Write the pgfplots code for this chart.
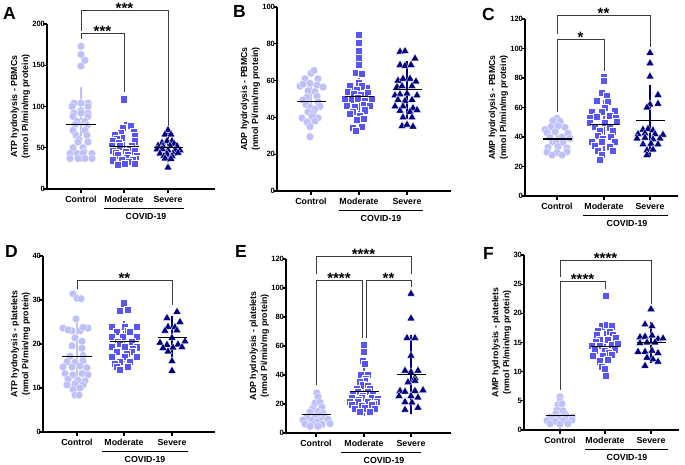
\documentclass[border=0pt]{standalone}
\usepackage{pgfplots}
\pgfplotsset{compat=1.18}
\usepackage{fontspec}
\setmainfont{Liberation Sans}
\definecolor{cctrl}{RGB}{192,192,248}
\definecolor{cmod}{RGB}{85,85,248}
\definecolor{csev}{RGB}{0,0,128}
\definecolor{cbrk}{RGB}{60,60,60}
\newcommand{\xlabfont}{\bfseries\fontsize{8.8}{10}\selectfont}
\newcommand{\covid}[3]{%
  \draw[line width=0.9pt] ([yshift=-19pt]axis cs:#1,0) -- ([yshift=-19pt]axis cs:#2,0);
  \node[font=\xlabfont] at ([yshift=-27pt]axis cs:#3,0) {COVID-19};}
\tikzset{
  brk/.style={cbrk, line width=1pt},
  stars/.style={font=\bfseries\fontsize{15}{15}\selectfont, anchor=base, inner sep=0pt, yshift=-3pt},
  letter/.style={font=\bfseries\fontsize{17.5}{17.5}\selectfont, anchor=north west, inner sep=0pt},
}
\pgfplotsset{
  panel/.style={
    scale only axis, anchor=south west, clip=false, enlargelimits=false,
    axis lines*=left,
    axis line style={-, line width=1.1pt, black},
    tick style={line width=1.1pt, black}, major tick length=3.5pt, tick align=outside,
    /pgf/number format/assume math mode=true,
    yticklabel style={font=\bfseries\fontsize{7.6}{9}\selectfont, xshift=5pt},
    xticklabel style={font=\xlabfont},
    ylabel style={font=\bfseries\fontsize{8.8}{11}\selectfont, align=center},
    ylabel shift=-4.5pt,
    xticklabels={Control,Moderate,Severe},
  },
  ctrl/.style={only marks, mark=*, mark size=3.9pt, mark options={fill=cctrl, draw=white, line width=0.25pt}},
  mod/.style={only marks, mark=square*, mark size=3.6pt, mark options={fill=cmod, draw=white, line width=0.25pt}},
  sev/.style={only marks, mark=triangle*, mark size=4.6pt, mark options={fill=csev, draw=white, line width=0.25pt}},
  msd/.style={only marks, mark=-, mark size=14.5pt, mark options={black, line width=1.2pt},
    error bars/.cd, y dir=both, y explicit,
    error bar style={line width=1.2pt, color=#1},
    error mark options={mark size=7pt, line width=1.2pt, color=#1}},
}
\begin{document}
\begin{tikzpicture}
\useasboundingbox (0,0) rectangle (685pt,-464pt);
\node[letter] at (3pt,-7pt) {A};
\node[letter] at (233pt,-5pt) {B};
\node[letter] at (482pt,-8pt) {C};
\node[letter] at (5pt,-245pt) {D};
\node[letter] at (235pt,-245pt) {E};
\node[letter] at (483pt,-247pt) {F};

% ---------------- A
\begin{axis}[panel, at={(47pt,-189pt)}, width=168pt, height=165pt,
  xmin=47, xmax=215, ymin=0, ymax=200, xtick={81,124,168}, ytick={0,50,100,150,200},
  ylabel={ATP hydrolysis - PBMCs\\(nmol Pi/min/mg protein)}]
\addplot[ctrl] coordinates {(81,173)(81,163)(85,156)(81,149)
 (74,104)(81,104)(88,104)(72,100)(88,100)(81,95)(74,92)(81,92)(88,92)(73,88)(88,88)
 (77,82)(85,82)(75,78)(87,77)(73,71)(85,71)(76,65)(87,65)(79,60)(78,57)(88,57)
 (73,50)(83,50)(84,45)(70,43)(77,43)(83,43)(92,43)(70,37)(78,37)(85,37)(92,37)};
\addplot[mod] coordinates {(124,109)(127,78)(131,77)(123,74)(121,68)(134,70)(115,66)(135,65)
 (122,62)(117,61)(113,58)(135,58)(119,56)(120,52)(132,52)(112,52)(130,49)(113,47)(135,46)
 (126,45)(116,44)(118,41)(128,42)(137,40)(127,38)(136,37)(113,35)(122,36)(133,35)(129,33)
 (125,31)(135,31)(118,30)};
\addplot[sev] coordinates {(168,71.5)(165,66)(171,66)(167,58)(172,58)(162,56)(174,55)
 (158,52.5)(163,52)(170,52.5)(177,52)(157,48)(162,48.5)(168,47)(175,47.5)(180,47)
 (160,43)(167,42.5)(173,43)(178,44)(164,40)(172,40)(165,37)(171,36.5)(168,26)};
\addplot[msd=cctrl] coordinates {(81,78) +- (0,37)};
\addplot[msd=cmod] coordinates {(124,52) +- (0,15)};
\addplot[msd=csev] coordinates {(168,50) +- (0,9)};
\draw[brk] (axis cs:81,182) -- (axis cs:81,189) -- (axis cs:124,189) -- (axis cs:124,117);
\draw[brk] (axis cs:81,192) -- (axis cs:81,216) -- (axis cs:168,216) -- (axis cs:168,76);
\node[stars] at (axis cs:102.5,189) {***};
\node[stars] at (axis cs:124.5,216) {***};
\covid{104}{184}{146}
\end{axis}

% ---------------- B
\begin{axis}[panel, at={(277pt,-191pt)}, width=174pt, height=184pt,
  xmin=277, xmax=451, ymin=0, ymax=100, xtick={311,359,407}, ytick={0,20,...,100},
  ylabel={ADP hydrolysis - PBMCs\\(nmol Pi/min/mg protein)}]
\addplot[ctrl] coordinates {(311,64)(314,65.5)(305,61)(318,61)(300,57)(303,58)(310,58.5)(317,57.5)(323,56.5)
 (315,54)(308,54.5)(307,51)(317,51.5)(303,49.5)(318,48.5)(306,47)(320,46)(310,45.5)(315,44.5)
 (308,43)(313,42)(302,39.7)(318,39.7)(312,40.5)(307,37.5)(315,38)(310,35)(310,29.5)};
\addplot[mod] coordinates {(359,85)(359,80.5)(359,76.5)(359,72.5)(359,68.5)(356,64.5)(362,64)
 (359,59)(350,57)(367,56)(362,57)(357,55)(348,54)(354,53)(361,52.5)(368,53.5)
 (345,50)(352,49.5)(358,50.5)(365,49)(372,50)(347,46.5)(355,46)(364,47)(370,46.5)
 (353,43)(365,44)(350,42)(360,41)(357,39)(364,39.5)(353,34.5)(362,35)(356,33)};
\addplot[sev] coordinates {(400,75.7)(405,76)(415,72)(400,68.5)(405,68)(411,68.5)
 (398,60)(403,61)(410,61)(416,59.5)(397,56.5)(402,57)(412,57)
 (395,52)(400,52.5)(407,53)(417,52)(398,49.5)(405,49)(412,49.5)
 (395,46)(403,46)(413,45)(400,43.7)(410,43)(417,44)(403,40)(412,40)
 (402,35.3)(407,36)(413,35)};
\addplot[msd=cctrl] coordinates {(311,48.5) +- (0,8)};
\addplot[msd=cmod] coordinates {(359,51.5) +- (0,13)};
\addplot[msd=csev] coordinates {(407,55) +- (0,12)};
\covid{339}{423}{381}
\end{axis}

% ---------------- C
\begin{axis}[panel, at={(525pt,-196pt)}, width=153pt, height=177pt,
  xmin=525, xmax=678, ymin=0, ymax=120, xtick={557,604,650}, ytick={0,20,...,120},
  ylabel={AMP hydrolysis - PBMCs\\(nmol Pi/min/mg protein)}]
\addplot[ctrl] coordinates {(557,52.7)(553,51)(560,50.5)(551,47)(558,47.5)(565,46.5)(545,45)
 (547,43)(555,43.5)(568,42.5)(550,39.6)(562,40)(570,39)(553,36.6)(563,36.3)(556,37)
 (548,33)(558,33.5)(567,32.5)(547,29.8)(557,29.5)(567,30)(552,27.8)(562,27.8)};
\addplot[mod] coordinates {(604,80.7)(604,78)(602,70)(607,67.8)(597,64.4)(608,64)(605,60)
 (592,57)(602,57)(615,57.5)(597,54)(610,54.5)(590,53)(616,53)(590,50)(605,50)(617,50.5)
 (595,46.8)(610,46.5)(600,44.4)(613,44)(598,41)(611,40)(603,39)(592,36.6)(602,36.6)(615,37)
 (595,34)(610,33.5)(598,30.5)(613,30.5)(602,27.8)(600,24.4)};
\addplot[sev] coordinates {(650,97)(650,90)(650,81)(658,68.5)(650,62)(658,62.5)(647,60)
 (643,45)(648,45.5)(653,44.5)(638,42)(645,42.5)(655,42)(663,41.5)
 (637,39)(645,39.5)(653,38.5)(660,39)(643,35)(651,35.5)(658,35)(647,31)(653,31.5)(647,27.8)};
\addplot[msd=cctrl] coordinates {(557,38.7) +- (0,5.5)};
\addplot[msd=cmod] coordinates {(604,48.3) +- (0,13.5)};
\addplot[msd=csev] coordinates {(650,51) +- (0,19.5)};
\draw[brk] (axis cs:557,110) -- (axis cs:557,122.7) -- (axis cs:650,122.7) -- (axis cs:650,101);
\draw[brk] (axis cs:557,57) -- (axis cs:557,106) -- (axis cs:604,106) -- (axis cs:604,85);
\node[stars] at (axis cs:603.5,122.7) {**};
\node[stars] at (axis cs:580.5,106) {*};
\covid{583}{668}{627}
\end{axis}

% ---------------- D
\begin{axis}[panel, at={(43pt,-432pt)}, width=172pt, height=176pt,
  xmin=43, xmax=215, ymin=0, ymax=40, xtick={77,124,172}, ytick={0,10,...,40},
  ylabel={ATP hydrolysis - platelets\\(nmol Pi/min/mg protein)}]
\addplot[ctrl] coordinates {(73,31.4)(77,30.4)(81,30.3)(76,25.7)(63,23.6)(72,23)(80,23)(88,23.6)
 (68,23.2)(83,23.8)(75,21.4)(82,20.6)(72,19.6)(82,19)(70,17.2)(83,17.4)
 (67,16)(75,15.8)(83,16.2)(63,14.8)(72,14.8)(80,15)(87,14.6)(65,13.3)(73,13)(82,13.3)(88,13)
 (68,12)(78,11.8)(85,11.6)(67,10.7)(75,10.9)(83,10.7)(73,9.7)(80,10)(75,8.4)(79,8.4)};
\addplot[mod] coordinates {(124,29.3)(120,27.5)(128,27.8)(112,23.9)(125,24)(137,23.9)(128,23)
 (117,22.8)(130,22.8)(112,21.7)(123,21.6)(137,21.7)(118,20.5)(132,20.5)(120,20)
 (112,19.4)(125,19.4)(137,19.3)(133,19)(117,18.2)(132,18.2)(127,17.8)(112,17.1)(125,17.1)(137,17.2)
 (120,16)(130,16)(115,15.5)(117,14.8)(128,14.8)(120,14.1)};
\addplot[sev] coordinates {(177,27.3)(167,25.9)(180,25)(168,23.9)(175,23.8)(165,23)(177,23.1)
 (172,21.4)(160,20.3)(167,19.8)(178,19.9)(185,20.6)(163,19.1)(173,19.2)(182,19.3)(168,18.3)
 (172,16.1)(172,13.9)};
\addplot[msd=cctrl] coordinates {(77,17.1) +- (0,6.3)};
\addplot[msd=cmod] coordinates {(124,20.6) +- (0,3)};
\addplot[msd=csev] coordinates {(172,21.4) +- (0,3.4)};
\draw[brk] (axis cs:77,32.5) -- (axis cs:77,34.5) -- (axis cs:172,34.5) -- (axis cs:172,28.9);
\node[stars] at (axis cs:124.5,34.5) {**};
\covid{102}{188}{145}
\end{axis}

% ---------------- E
\begin{axis}[panel, at={(286pt,-433pt)}, width=165pt, height=174pt,
  xmin=286, xmax=451, ymin=0, ymax=120, xtick={316,364,411}, ytick={0,20,...,120},
  ylabel={ADP hydrolysis - platelets\\(nmol Pi/min/mg protein)}]
\addplot[ctrl] coordinates {(317,27.6)(318,24.8)(315,20.7)(320,21.2)(313,17.4)(322,17.8)(312,16)
 (310,14.5)(318,14.8)(323,13.8)(320,12.3)(307,11)(315,11.2)(325,11)
 (303,9)(312,8.6)(320,9)(328,9.5)(317,7.5)(305,6.2)(313,5.8)(322,6)(330,6.4)(310,4.6)(318,4.6)};
\addplot[mod] coordinates {(364,60.7)(364,56)(363,50)(365,48)(361,40)(368,40.5)(366,37.5)
 (365,36)(360,35.5)(363,33)(368,32.5)(357,30.5)(370,30.8)(358,28.5)(368,28.8)
 (353,26.2)(363,26)(373,26.4)(352,24)(362,24.2)(372,24)(378,23.5)(359,22.8)
 (350,21.6)(358,21.8)(368,21.5)(377,21.8)(374,20.5)(352,19.3)(362,19)(372,19.4)
 (355,17)(365,17.2)(375,16.8)(360,14.7)(370,14.7)};
\addplot[sev] coordinates {(411,96)(411,79)(407,65.5)(415,65.5)(411,53.3)(405,43)(418,43)(411,42)
 (415,38)(408,35)(415,36)(400,29)(405,28.5)(415,29)(423,29.5)(399,25.5)(411,25.5)(418,24.5)
 (405,21.4)(412,21)(405,16)(418,17.5)};
\addplot[msd=cctrl] coordinates {(316,12.6) +- (0,6)};
\addplot[msd=cmod] coordinates {(364,28.7) +- (0,11.8)};
\addplot[msd=csev] coordinates {(411,40.3) +- (0,22.7)};
\draw[brk] (axis cs:316,110) -- (axis cs:316,122) -- (axis cs:411,122) -- (axis cs:411,110);
\draw[brk] (axis cs:316,33) -- (axis cs:316,105.5) -- (axis cs:362,105.5) -- (axis cs:362,65.5);
\draw[brk] (axis cs:366,65.5) -- (axis cs:366,105.5) -- (axis cs:411,105.5) -- (axis cs:411,100.7);
\node[stars] at (axis cs:363.5,122) {****};
\node[stars] at (axis cs:339,105.5) {****};
\node[stars] at (axis cs:388.5,105.5) {**};
\covid{341}{421}{384}
\end{axis}

% ---------------- F
\begin{axis}[panel, at={(524pt,-430pt)}, width=155pt, height=175pt,
  xmin=524, xmax=679, ymin=0, ymax=30, xtick={560,605,651}, ytick={0,5,...,30},
  ylabel={AMP hydrolysis - platelets\\(nmol Pi/min/mg protein)}]
\addplot[ctrl] coordinates {(560,5.7)(560,4.9)(558,4.3)(562,4.5)(557,3.4)(563,3.3)(556,2.8)(565,2.7)
 (550,2.2)(558,2.1)(567,2.3)(572,2.2)(553,1.9)(547,1.6)(555,1.5)(563,1.6)(572,1.7)
 (550,1.1)(560,1.0)(568,1.1)};
\addplot[mod] coordinates {(606,23)(602,17.8)(607,18)(612,17.8)(598,17)(610,16.9)(597,16.3)(613,16.3)
 (616,15.8)(600,15.4)(608,15.5)(596,15.2)(592,14.5)(600,14.4)(612,14.6)(618,14.8)
 (595,13.7)(605,13.6)(615,13.8)(609,13.2)(593,12.8)(603,12.7)(612,12.9)(600,11.8)(608,12)
 (602,10.9)(605,10.5)(606,9.3)};
\addplot[sev] coordinates {(651,20.7)(645,18.1)(652,17.8)(640,15.9)(645,16)(652,16.2)(658,15.6)(663,15.7)
 (640,14.9)(647,15)(655,15)(638,13.4)(645,13.4)(652,13.6)(658,13.2)(647,12.4)(653,12.1)(658,11.7)(645,11)};
\addplot[msd=cctrl] coordinates {(560,2.45) +- (0,1.15)};
\addplot[msd=cmod] coordinates {(605,14.3) +- (0,1.9)};
\addplot[msd=csev] coordinates {(651,15) +- (0,2.3)};
\draw[brk] (axis cs:560,26.2) -- (axis cs:560,29) -- (axis cs:651,29) -- (axis cs:651,21.6);
\draw[brk] (axis cs:560,6.9) -- (axis cs:560,25.4) -- (axis cs:605,25.4) -- (axis cs:605,24.2);
\node[stars] at (axis cs:605.5,29) {****};
\node[stars] at (axis cs:582.5,25.4) {****};
\covid{585}{668}{627}
\end{axis}
\end{tikzpicture}
\end{document}
